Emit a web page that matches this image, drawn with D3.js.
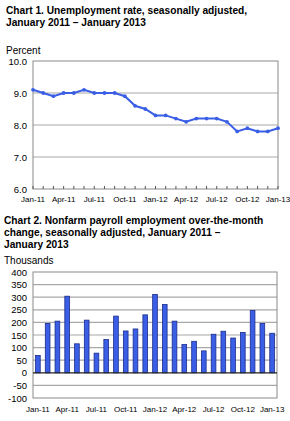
<!DOCTYPE html>
<html>
<head>
<meta charset="utf-8">
<script src="https://cdn.jsdelivr.net/npm/d3@7"></script>
<style>
  body { margin: 0; background: #fff; }
  svg { display: block; font-family: "Liberation Sans", Arial, sans-serif; }
</style>
</head>
<body>
<svg id="chart" width="290" height="421"></svg>
<script>
// months Jan-11 .. Jan-13
const months = ["Jan-11","Feb-11","Mar-11","Apr-11","May-11","Jun-11","Jul-11","Aug-11","Sep-11","Oct-11","Nov-11","Dec-11",
                "Jan-12","Feb-12","Mar-12","Apr-12","May-12","Jun-12","Jul-12","Aug-12","Sep-12","Oct-12","Nov-12","Dec-12","Jan-13"]
const tickMonths = ["Jan-11","Apr-11","Jul-11","Oct-11","Jan-12","Apr-12","Jul-12","Oct-12","Jan-13"]

// chart 1: unemployment rate, percent
const unempRate = [9.1,9.0,8.9,9.0,9.0,9.1,9.0,9.0,9.0,8.9,8.6,8.5,
                   8.3,8.3,8.2,8.1,8.2,8.2,8.2,8.1,7.8,7.9,7.8,7.8,7.9]
const rateTicks = [6,7,8,9,10]

// chart 2: payroll change, thousands
const payrollChange = [69,196,205,304,115,209,78,132,225,166,174,230,
                       311,271,205,112,125,87,153,165,138,160,247,196,157]
const payrollTicks = [-100,-50,0,50,100,150,200,250,300,350,400]

const svg = d3.select("#chart")
const blue = "#3a5ee6", navy = "#1c2c8a", grid = "#a8a8a8", frame = "#8a8a8a"

function title(lines, x, y0, dy){
  lines.forEach((t,i) => {
    svg.append("text").attr("x", x).attr("y", y0 + i*dy)
       .style("font-size","10.2px").style("font-weight","bold").text(t)
  })
}

/// ---- Chart 1
title(["Chart 1. Unemployment rate, seasonally adjusted,", "January 2011 \u2013 January 2013"], 6, 14, 12)
svg.append("text").attr("x", 6).attr("y", 54).style("font-size","10px").text("Percent")

const x1 = d3.scalePoint().domain(months).range([33, 278])
const y1 = d3.scaleLinear().domain([6, 10]).range([189, 61])

const g1 = svg.append("g")
g1.selectAll("line.grid").data(rateTicks.slice(1,-1)).join("line")
  .attr("x1", 33).attr("x2", 278).attr("y1", d => y1(d)).attr("y2", d => y1(d))
  .attr("stroke", grid).attr("stroke-width", 1.2)
g1.append("rect").attr("x", 33).attr("y", 61).attr("width", 245).attr("height", 128)
  .attr("fill","none").attr("stroke", frame)

// month ticks pointing up from the bottom
g1.selectAll("line.tk").data(months).join("line")
  .attr("x1", d => x1(d)).attr("x2", d => x1(d)).attr("y1", 189).attr("y2", 186)
  .attr("stroke", "#555")

g1.selectAll("text.yl").data(rateTicks).join("text")
  .attr("x", 27).attr("y", d => y1(d) + 3.5).attr("text-anchor","end")
  .style("font-size","9.5px").text(d => d.toFixed(1))

g1.selectAll("text.xl").data(tickMonths).join("text")
  .attr("x", d => x1(d)).attr("y", 202).attr("text-anchor","middle")
  .style("font-size","8px").text(d => d)

g1.append("path").datum(unempRate)
  .attr("d", d3.line().x((d,i) => x1(months[i])).y(d => y1(d)))
  .attr("fill","none").attr("stroke", blue).attr("stroke-width", 2)
g1.selectAll("circle").data(unempRate).join("circle")
  .attr("cx", (d,i) => x1(months[i])).attr("cy", d => y1(d)).attr("r", 1.9)
  .attr("fill", blue)

/// ---- Chart 2
title(["Chart 2. Nonfarm payroll employment over-the-month", "change, seasonally adjusted, January 2011 \u2013", "January 2013"], 4, 224, 12)
svg.append("text").attr("x", 4).attr("y", 264).style("font-size","10px").text("Thousands")

const x2 = d3.scaleBand().domain(months).range([33, 277]).paddingInner(0.52).paddingOuter(0.26)
const y2 = d3.scaleLinear().domain([-100, 400]).range([398, 272])

const g2 = svg.append("g")
g2.selectAll("line.grid").data(payrollTicks.filter(d => d !== 0 && d !== 400 && d !== -100)).join("line")
  .attr("x1", 33).attr("x2", 277).attr("y1", d => y2(d)).attr("y2", d => y2(d))
  .attr("stroke", grid).attr("stroke-width", 1.2)
g2.append("rect").attr("x", 33).attr("y", 272).attr("width", 244).attr("height", 126)
  .attr("fill","none").attr("stroke", frame)

g2.selectAll("rect.bar").data(payrollChange).join("rect")
  .attr("x", (d,i) => x2(months[i])).attr("width", x2.bandwidth())
  .attr("y", d => y2(Math.max(0,d))).attr("height", d => Math.abs(y2(d) - y2(0)))
  .attr("fill", blue).attr("stroke", navy).attr("stroke-width", 0.8)

g2.append("line").attr("x1", 33).attr("x2", 277).attr("y1", y2(0)).attr("y2", y2(0))
  .attr("stroke", "#222").attr("stroke-width", 1.2)

g2.selectAll("text.yl").data(payrollTicks).join("text")
  .attr("x", 27).attr("y", d => y2(d) + 3.5).attr("text-anchor","end")
  .style("font-size","9.5px").text(d => d)

g2.selectAll("text.xl").data(tickMonths).join("text")
  .attr("x", d => x2(d) + x2.bandwidth()/2).attr("y", 412).attr("text-anchor","middle")
  .style("font-size","8px").text(d => d)
</script>
</body>
</html>
